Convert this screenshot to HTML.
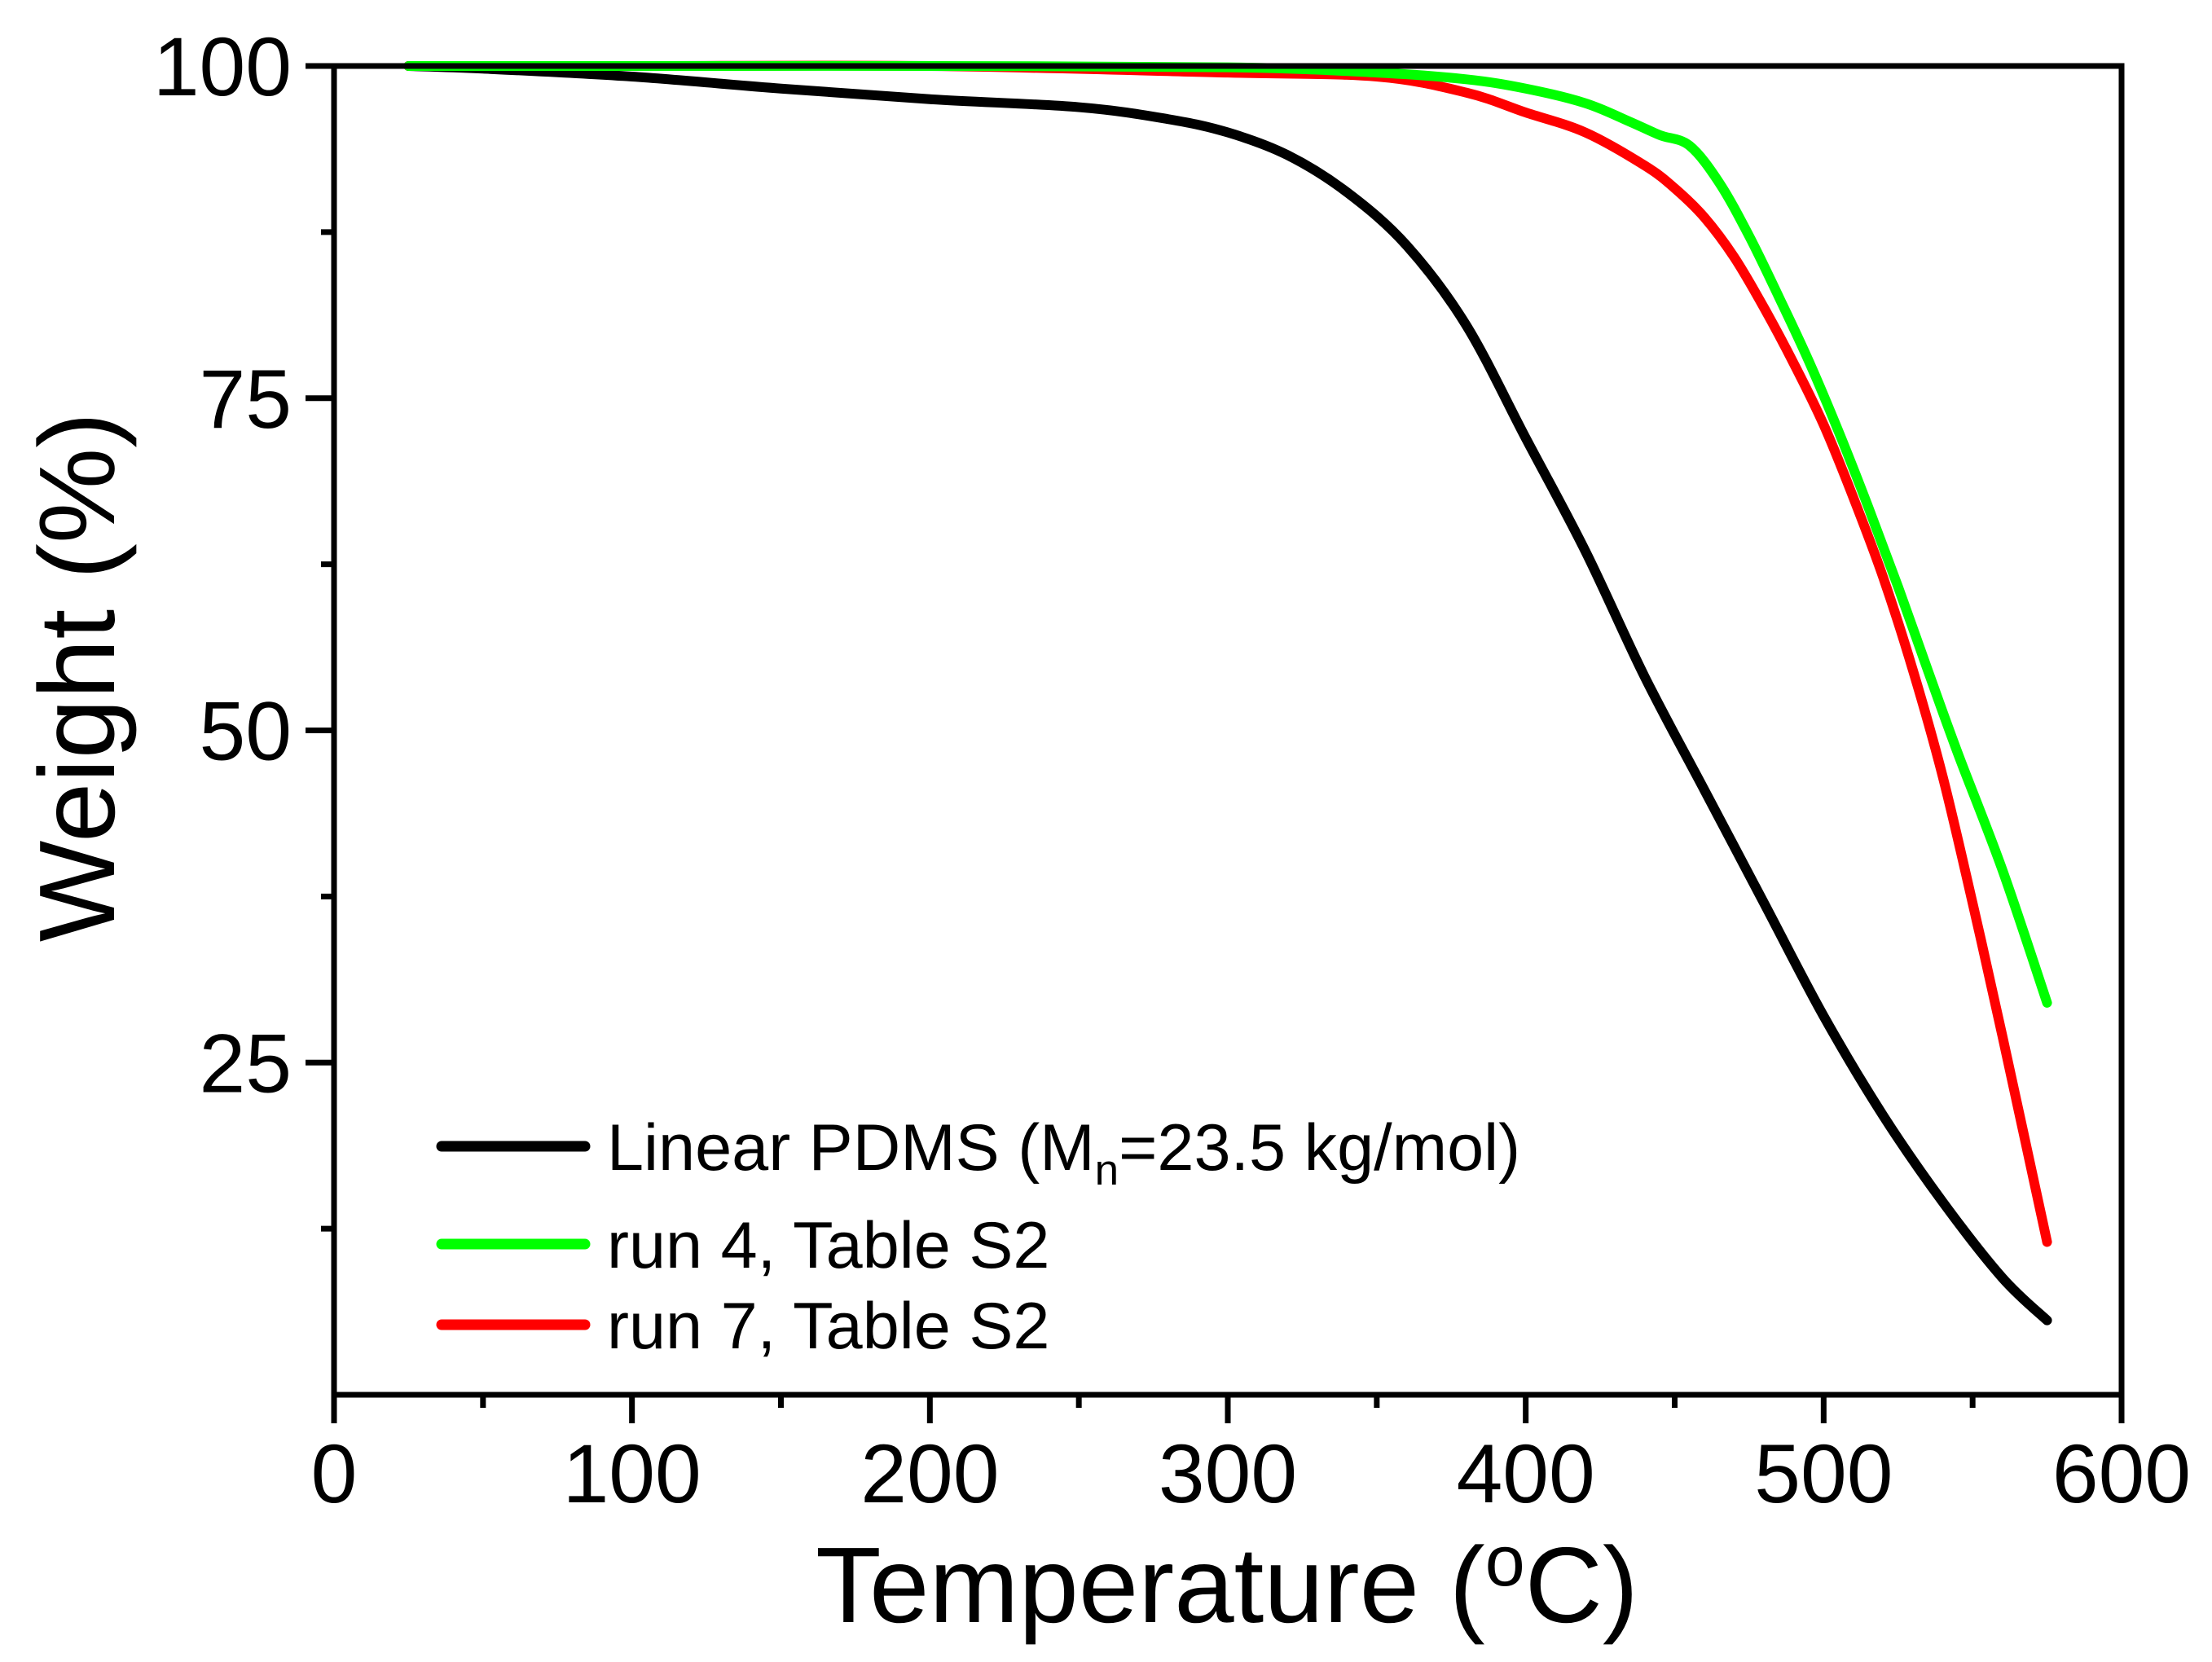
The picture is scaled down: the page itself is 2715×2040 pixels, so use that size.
<!DOCTYPE html>
<html><head><meta charset="utf-8"><style>
html,body{margin:0;padding:0;background:#fff}
svg{display:block;font-family:"Liberation Sans",Arial,sans-serif}
</style></head><body>
<svg id="chart" width="2715" height="2040" viewBox="0 0 2715 2040" xmlns="http://www.w3.org/2000/svg">
<g id="series"></g>
<rect x="410" y="81" width="2194" height="1631" fill="none" stroke="#000" stroke-width="7"/>
<g id="axes"></g>
<text x="1506" y="1991" font-size="132" text-anchor="middle">Temperature (<tspan font-size="88" dy="-45">o</tspan><tspan dy="45">C)</tspan></text>
<text transform="translate(140,831) rotate(-90)" font-size="132" text-anchor="middle">Weight (%)</text>
<g>
<line x1="542" y1="1407" x2="718" y2="1407" stroke="#000" stroke-width="13" stroke-linecap="round"/>
<text x="745" y="1436" font-size="81">Linear PDMS (M<tspan font-size="53" dy="18">n</tspan><tspan dy="-18">=23.5 kg/mol)</tspan></text>
<line x1="542" y1="1527" x2="718" y2="1527" stroke="#00ff00" stroke-width="13" stroke-linecap="round"/>
<text x="745" y="1556" font-size="81">run 4, Table S2</text>
<line x1="542" y1="1626" x2="718" y2="1626" stroke="#ff0000" stroke-width="13" stroke-linecap="round"/>
<text x="745" y="1655" font-size="81">run 7, Table S2</text>
</g>
</svg>
<script>
const xTicks=[0,100,200,300,400,500,600];
const yTicks=[25,50,75,100];
const blackT=[25,50,100,150,200,250,280,300,320,340,360,380,400,420,440,460,480,500,520,540,560,575];
const blackW=[100,99.8,99.2,98.3,97.5,96.9,96.0,95.0,93.3,90.5,86.5,80.5,72,63.5,54,45.5,37,28.5,21,14.5,8.8,5.6];
const greenT=[25,100,200,300,350,380,400,420,435,445,455,465,475,485,495,505,515,525,535,545,560,575];
const greenW=[100,100,100,99.9,99.5,99,98.3,97.2,95.8,94.8,94.0,91.2,87.2,82.6,77.8,72.5,66.8,60.8,54.5,48.3,39.5,29.5];
const redT=[25,100,200,300,350,380,400,420,440,450,460,470,480,490,500,510,520,530,540,550,560,575];
const redW=[100,100,100,99.5,99.2,98,96.5,95,92.5,90.8,88.6,85.6,81.8,77.6,73,67.5,61.5,54.5,46.5,37,27,11.5];
const X0=410,X1=2604,Y0=1712,Y1=81;
const sx=v=>X0+(v-0)/(600-0)*(X1-X0);
const sy=v=>Y0-(v-0)/(100-0)*(Y0-Y1);
const NS='http://www.w3.org/2000/svg';
function path(ts,ws){
  const p=ts.map((t,i)=>[sx(t),sy(ws[i])]);
  let d='M'+p[0][0]+','+p[0][1];
  for(let i=0;i<p.length-1;i++){
    const a=p[i-1]||p[i],b=p[i],c=p[i+1],e=p[i+2]||c;
    const c1=[b[0]+(c[0]-a[0])/6,b[1]+(c[1]-a[1])/6];
    const c2=[c[0]-(e[0]-b[0])/6,c[1]-(e[1]-b[1])/6];
    d+=' C'+c1+' '+c2+' '+c;
  }
  return d;
}
const g=document.getElementById('series');
function addSeries(ts,ws,color,name){
  const el=document.createElementNS(NS,'path');
  el.setAttribute('d',path(ts,ws));
  el.setAttribute('fill','none');el.setAttribute('stroke',color);
  el.setAttribute('stroke-width','12');el.setAttribute('stroke-linecap','round');el.setAttribute('stroke-linejoin','round');
  
  
  g.appendChild(el);
}
addSeries(blackT,blackW,'#000','series-linear-pdms');
addSeries(redT,redW,'#ff0000','series-run7');
addSeries(greenT,greenW,'#00ff00','series-run4');
const ax=document.getElementById('axes');
function line(x1,y1,x2,y2,w,name){
  const l=document.createElementNS(NS,'line');
  l.setAttribute('x1',x1);l.setAttribute('y1',y1);l.setAttribute('x2',x2);l.setAttribute('y2',y2);
  l.setAttribute('stroke','#000');l.setAttribute('stroke-width',w);
  
  
  ax.appendChild(l);
}
function text(x,y,s,anchor,name){
  const t=document.createElementNS(NS,'text');
  t.setAttribute('x',x);t.setAttribute('y',y);t.setAttribute('font-size','102');t.setAttribute('text-anchor',anchor);
  t.textContent=s;
  
  
  ax.appendChild(t);
}
xTicks.forEach(v=>{line(sx(v),Y0,sx(v),Y0+35,7,'x-tick');text(sx(v),1844,String(v),'middle','x-tick-label');});
for(let v=50;v<600;v+=100){line(sx(v),Y0,sx(v),Y0+16,7,'x-minor-tick');}
yTicks.forEach(v=>{line(X0-35,sy(v),X0,sy(v),7,'y-tick');text(358,sy(v)+36,String(v),'end','y-tick-label');});
for(let v=12.5;v<100;v+=25){line(X0-16,sy(v),X0,sy(v),7,'y-minor-tick');}
</script>
</body></html>
